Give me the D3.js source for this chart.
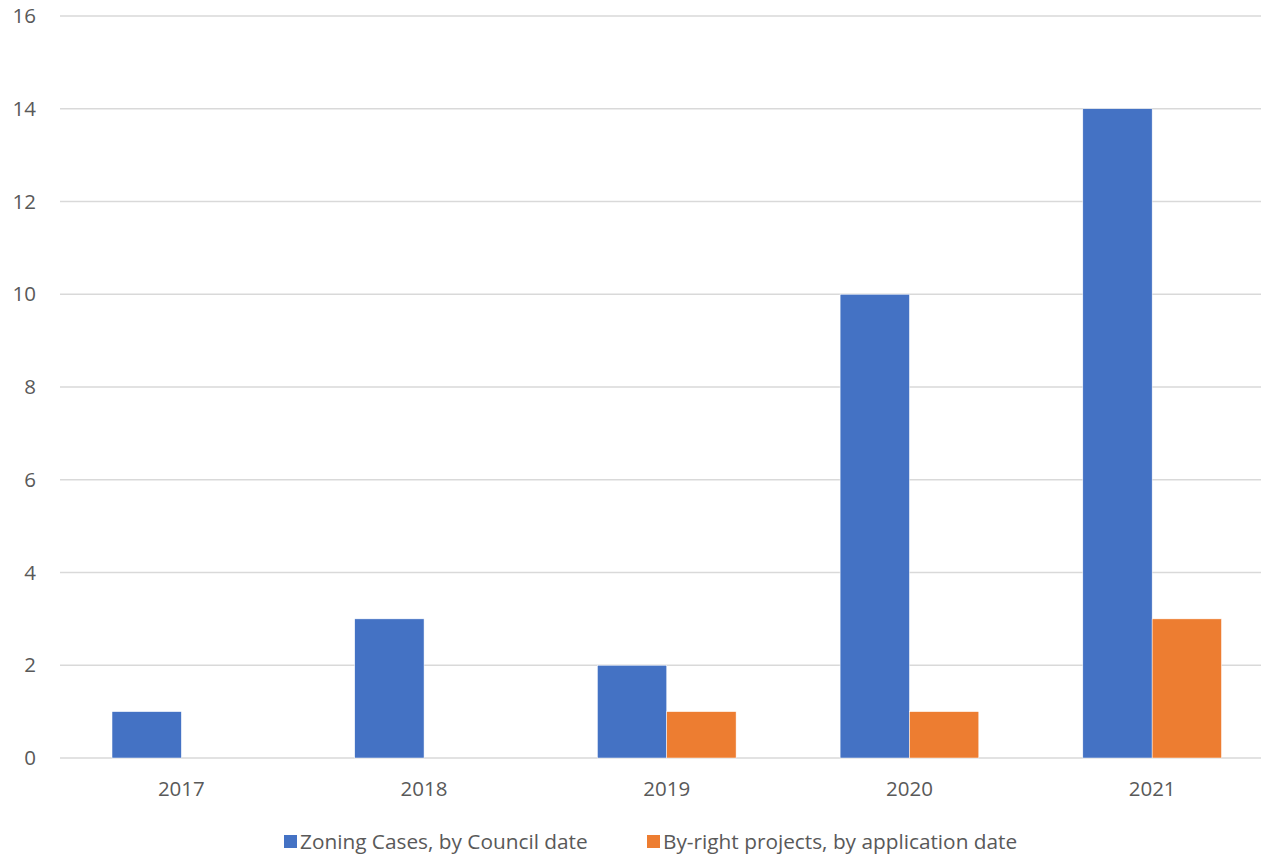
<!DOCTYPE html>
<html><head><meta charset="utf-8">
<script src="https://cdn.jsdelivr.net/npm/d3@7"></script>
<style>body{margin:0;background:#fff}svg{display:block}text{font-family:"Open Sans","Liberation Sans",sans-serif;fill:#595959}</style>
</head><body><svg id="c" width="1261" height="854"></svg>
<script>
const categories = ["2017","2018","2019","2020","2021"];
const seriesNames = ["Zoning Cases, by Council date","By-right projects, by application date"];
const zoningCases = [1,3,2,10,14];
const byRight = [0,0,1,1,3];
const yTicks = [0,2,4,6,8,10,12,14,16];
const colors = ["#4472C4","#ED7D31"];

const svg = d3.select("#c");
const x = d3.scaleBand().domain(categories).range([60,1273.5]).paddingInner(0).paddingOuter(0);
const y = d3.scaleLinear().domain([0,16]).range([758,16]);
const barW = x.bandwidth()*0.2857;
const fs = 20.5;

svg.append("g").selectAll("line").data(yTicks).join("line")
  .attr("x1",60).attr("x2",1261).attr("y1",d=>y(d)).attr("y2",d=>y(d))
  .attr("stroke","#d9d9d9").attr("stroke-width",1.5);

svg.append("g").selectAll("text").data(yTicks).join("text")
  .attr("x",36).attr("y",d=>y(d)).attr("dy","0.35em").attr("text-anchor","end")
  .attr("font-size",fs).text(d=>d);

const series = [zoningCases, byRight];
series.forEach((vals,si)=>{
  svg.append("g").selectAll("rect").data(categories).join("rect")
    .attr("x",(c)=>x(c)+x.bandwidth()/2 - barW + si*barW)
    .attr("width",barW)
    .attr("y",(c,i)=>y(vals[i]))
    .attr("height",(c,i)=>y(0)-y(vals[i]))
    .attr("fill",colors[si])
    .attr("stroke","#fff").attr("stroke-width",0.5)
    .style("display",(c,i)=>vals[i]>0?null:"none");
});

svg.append("g").selectAll("text").data(categories).join("text")
  .attr("x",c=>x(c)+x.bandwidth()/2).attr("y",789).attr("dy","0.35em")
  .attr("text-anchor","middle").attr("font-size",fs).text(c=>c);

const legX = [284, 647];
seriesNames.forEach((n,i)=>{
  svg.append("rect").attr("x",legX[i]).attr("y",835).attr("width",13).attr("height",13).attr("fill",colors[i]);
  svg.append("text").attr("x",legX[i]+16).attr("y",842).attr("dy","0.35em").attr("font-size",20.8).text(n);
});
</script></body></html>
